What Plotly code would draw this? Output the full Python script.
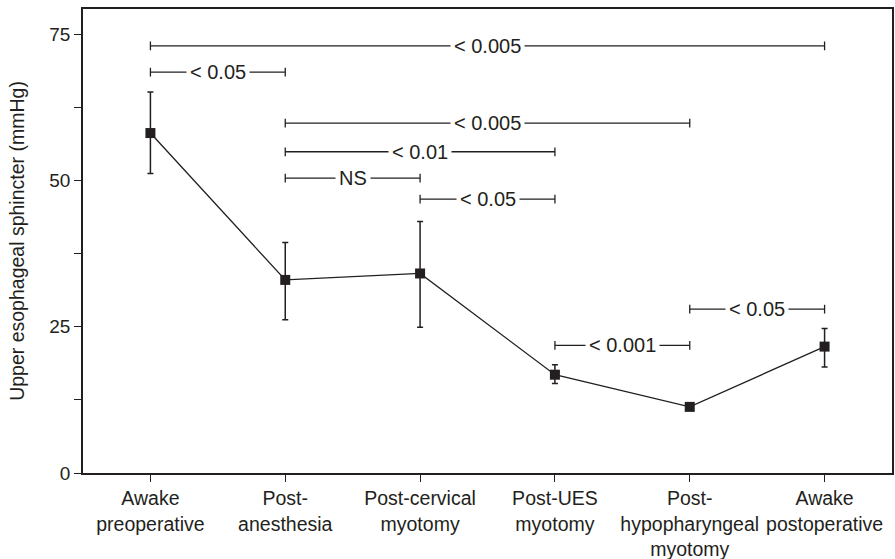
import plotly.graph_objects as go

categories = ["Awake<br>preoperative", "Post-<br>anesthesia", "Post-cervical<br>myotomy",
              "Post-UES<br>myotomy", "Post-<br>hypopharyngeal<br>myotomy", "Awake<br>postoperative"]
means = [58.1, 33.0, 34.1, 16.8, 11.3, 21.6]
err_plus = [7.0, 6.4, 8.9, 1.7, 0.0, 3.1]
err_minus = [6.9, 6.8, 9.2, 1.5, 0.0, 3.5]

# significance brackets: (from index, to index, y level, label)
bracket_from = [0, 0, 1, 1, 1, 2, 3, 4]
bracket_to = [5, 1, 4, 3, 2, 3, 4, 5]
bracket_y = [73.0, 68.5, 59.8, 54.9, 50.4, 46.8, 21.8, 28.0]
bracket_label = ["< 0.005", "< 0.05", "< 0.005", "< 0.01", "NS", "< 0.05", "< 0.001", "< 0.05"]

ytick_vals = [0, 12.5, 25, 37.5, 50, 62.5, 75]
ytick_text = ["0", "", "25", "", "50", "", "75"]

FONT = "Liberation Sans, Arial, Helvetica, sans-serif"
INK = "#231f20"

fig = go.Figure()
fig.add_trace(go.Scatter(
    x=list(range(len(categories))), y=means, mode="lines+markers",
    line=dict(color=INK, width=1.3),
    marker=dict(symbol="square", size=10, color=INK),
    error_y=dict(type="data", symmetric=False, array=err_plus, arrayminus=err_minus,
                 color=INK, thickness=1.5, width=3),
    showlegend=False,
))

shapes = []
annotations = []
cap = 0.75
for a, b, yv, lab in zip(bracket_from, bracket_to, bracket_y, bracket_label):
    shapes.append(dict(type="line", xref="x", yref="y", x0=a, x1=b, y0=yv, y1=yv,
                       line=dict(color=INK, width=1.3)))
    for xv in (a, b):
        shapes.append(dict(type="line", xref="x", yref="y", x0=xv, x1=xv, y0=yv - cap, y1=yv + cap,
                           line=dict(color=INK, width=1.3)))
    annotations.append(dict(x=(a + b) / 2, y=yv, xref="x", yref="y", text=lab, showarrow=False,
                            font=dict(family=FONT, size=20, color=INK), bgcolor="white",
                            borderpad=3, xanchor="center", yanchor="middle"))

fig.update_layout(
    width=895, height=559,
    margin=dict(l=83, r=3, t=9, b=86),
    paper_bgcolor="white", plot_bgcolor="white",
    font=dict(family=FONT, size=19, color=INK),
    shapes=shapes, annotations=annotations,
    xaxis=dict(range=[-0.5, 5.5], tickmode="array", tickvals=list(range(len(categories))),
               ticktext=categories, ticks="outside", ticklen=7, tickwidth=1.3, tickcolor=INK,
               showline=True, linecolor=INK, linewidth=1.5, mirror=True, showgrid=False,
               zeroline=False, tickfont=dict(size=19.5), automargin=False),
    yaxis=dict(range=[0, 79.3], tickmode="array", tickvals=ytick_vals, ticktext=ytick_text,
               ticks="outside", ticklen=7, tickwidth=1.3, tickcolor=INK,
               showline=True, linecolor=INK, linewidth=1.5, mirror=True, showgrid=False,
               zeroline=False, tickfont=dict(size=19), automargin=False,
               title=dict(text="Upper esophageal sphincter (mmHg)", font=dict(size=19.5), standoff=19)),
)

fig.write_html("out.html", config={"displayModeBar": False},
               post_script="document.body.style.margin='0';document.body.style.overflow='hidden';")
